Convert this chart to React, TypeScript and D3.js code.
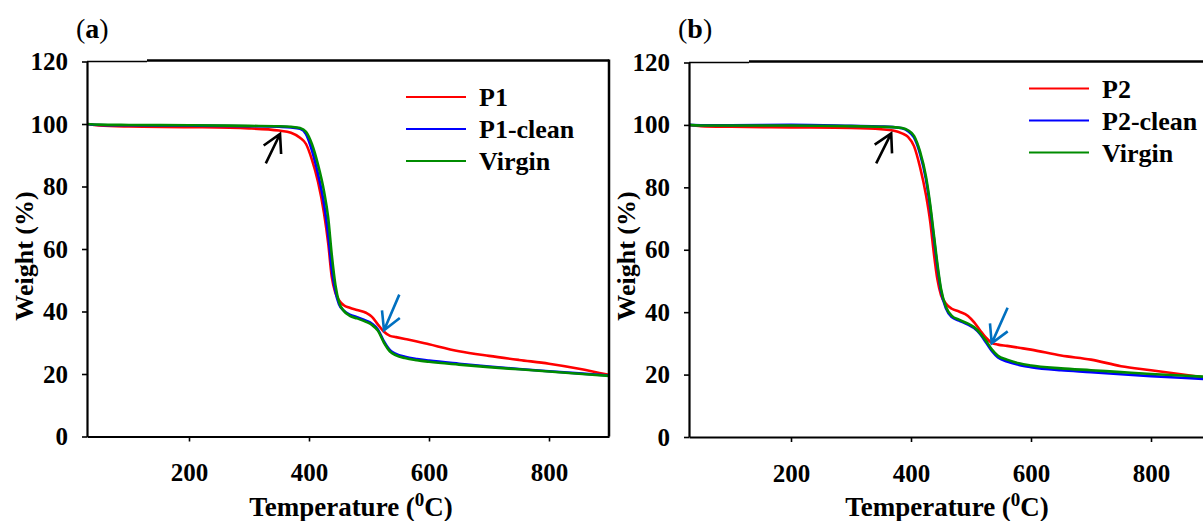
import React, { useEffect, useRef } from 'react';
import * as d3 from 'd3';

// temperature grid (°C), shared by every curve
const temps = [30, 50, 100, 200, 300, 350, 370, 385, 395, 405, 415, 425, 432, 438, 444, 450, 458, 468, 480, 495, 505, 515, 525, 535, 545, 560, 580, 600, 650, 700, 750, 800, 850, 900];

// panel (a)
const p1 = [100, 99.5, 99.2, 99.0, 98.6, 97.9, 97.2, 95.6, 93.6, 88.5, 81.5, 71.5, 61.8, 51.0, 46.0, 43.6, 42.0, 41.2, 40.5, 39.6, 38.3, 35.8, 33.5, 32.2, 31.8, 31.2, 30.4, 29.5, 27.3, 25.8, 24.5, 23.3, 21.7, 19.7];
const p1Clean = [100, 99.7, 99.6, 99.5, 99.3, 99.1, 98.9, 98.5, 96.8, 91.5, 84.0, 74.5, 64.5, 53.5, 46.5, 42.3, 40.3, 39.0, 38.2, 37.1, 36.1, 34.2, 30.4, 27.6, 26.4, 25.5, 24.8, 24.3, 23.3, 22.4, 21.6, 20.9, 20.2, 19.5];
const virginA = [100, 99.8, 99.7, 99.6, 99.4, 99.3, 99.1, 98.7, 97.5, 93.5, 87.0, 78.5, 70.0, 58.0, 48.5, 43.0, 40.2, 38.6, 37.8, 36.7, 35.7, 33.8, 30.0, 27.2, 26.0, 25.1, 24.4, 23.9, 23.0, 22.2, 21.5, 20.8, 20.1, 19.4];

// panel (b)
const p2 = [100, 99.6, 99.4, 99.2, 99.0, 98.6, 98.2, 97.3, 96.2, 93.2, 86.5, 77.5, 69.0, 59.0, 50.5, 45.5, 42.8, 41.1, 40.2, 38.8, 36.8, 34.2, 31.8, 30.1, 29.6, 29.2, 28.6, 28.0, 26.1, 24.8, 22.7, 21.4, 20.1, 18.8];
const p2Clean = [100, 99.9, 99.9, 100.0, 99.7, 99.5, 99.3, 98.9, 98.0, 96.0, 90.8, 82.5, 73.5, 64.0, 54.5, 46.8, 41.3, 38.4, 37.3, 36.0, 34.9, 33.0, 30.3, 27.5, 25.5, 24.2, 23.1, 22.4, 21.4, 20.8, 20.1, 19.5, 19.0, 18.5];
const virginB = [100, 99.8, 99.8, 99.8, 99.6, 99.4, 99.3, 99.0, 98.3, 96.5, 91.5, 83.4, 74.5, 65.0, 55.5, 47.5, 41.8, 38.8, 37.6, 36.3, 35.2, 33.3, 30.8, 28.0, 26.0, 24.8, 23.6, 22.9, 22.0, 21.4, 20.8, 20.2, 19.7, 19.2];

const xTicks = [200, 400, 600, 800];
const yTicks = [0, 20, 40, 60, 80, 100, 120];
const colors = ['#ff0000', '#0000ff', '#008c00'];
const legendA = ['P1', 'P1-clean', 'Virgin'];
const legendB = ['P2', 'P2-clean', 'Virgin'];

// annotation arrows: [tailT, tailW, tipT, tipW]
const arrowsA = [[328, 87.4, 351.7, 96.8], [550.5, 45.4, 525, 34]];
const arrowsB = [[342, 87.7, 367, 97.3], [561, 41.4, 534.5, 30]];
const arrowColors = ['#000000', '#0070c0'];

const FONT = 'Liberation Serif';

const panels = [
  { label: 'a', left: 87, right: 609, top: 61.5, bottom: 436.5, series: [p1, p1Clean, virginA], names: legendA, arrows: arrowsA, legX: 406, legY: 97 },
  { label: 'b', left: 689, right: 1211, top: 62.5, bottom: 437, series: [p2, p2Clean, virginB], names: legendB, arrows: arrowsB, legX: 1029, legY: 88.5 },
];

const App = () => {
  const ref = useRef<SVGSVGElement>(null);

  useEffect(() => {
    const svg = d3.select(ref.current);
    svg.selectAll('*').remove();

    panels.forEach((p) => {
      const x = d3.scaleLinear().domain([30, 900]).range([p.left, p.right]);
      const y = d3.scaleLinear().domain([0, 120]).range([p.bottom, p.top]);
      const g = svg.append('g').attr('font-family', FONT).attr('font-weight', 'bold');

      // curves
      const line = d3
        .line<number>()
        .x((_, i) => x(temps[i]))
        .y((d) => y(d))
        .curve(d3.curveMonotoneX);
      const clipId = 'clip-' + p.label;
      g.append('clipPath').attr('id', clipId).append('rect')
        .attr('x', p.left).attr('y', p.top).attr('width', p.right - p.left).attr('height', p.bottom - p.top);
      p.series.forEach((s, i) => {
        g.append('path')
          .datum(s)
          .attr('d', line)
          .attr('fill', 'none')
          .attr('stroke', colors[i])
          .attr('stroke-width', 2.6)
          .attr('clip-path', `url(#${clipId})`);
      });

      // frame
      g.append('line').attr('x1', p.left).attr('x2', p.left + 60).attr('y1', p.top).attr('y2', p.top)
        .attr('stroke', '#000').attr('stroke-width', 1.5);
      g.append('line').attr('x1', p.left + 60).attr('x2', p.right).attr('y1', p.top - 1).attr('y2', p.top - 1)
        .attr('stroke', '#000').attr('stroke-width', 2.5);
      g.append('line').attr('x1', p.right).attr('x2', p.right).attr('y1', p.top - 2).attr('y2', p.bottom)
        .attr('stroke', '#000').attr('stroke-width', 2.5);

      // axes
      const yAxis = g.append('g').attr('transform', `translate(${p.left},0)`)
        .call(d3.axisLeft(y).tickValues(yTicks).tickSize(5).tickPadding(14).tickSizeOuter(0));
      const xAxis = g.append('g').attr('transform', `translate(0,${p.bottom})`)
        .call(d3.axisBottom(x).tickValues(xTicks).tickSize(5).tickPadding(22).tickSizeOuter(0));
      [yAxis, xAxis].forEach((a) => {
        a.attr('font-family', FONT).attr('font-size', 25).attr('font-weight', 'bold');
        a.select('.domain').attr('stroke', '#000').attr('stroke-width', 2.2);
        a.selectAll('.tick line').attr('stroke', '#000').attr('stroke-width', 1.6);
        a.selectAll('.tick text').attr('fill', '#000');
      });

      // titles
      g.append('text')
        .attr('x', (p.left + p.right) / 2 + (p.label === 'b' ? -3 : 3))
        .attr('y', 516)
        .attr('text-anchor', 'middle')
        .attr('font-size', 27)
        .html('Temperature (<tspan dy="-10" font-size="19">0</tspan><tspan dy="10">C)</tspan>');
      g.append('text')
        .attr('transform', `translate(${p.left - 54},${256}) rotate(-90)`)
        .attr('text-anchor', 'middle')
        .attr('font-size', 26)
        .text('Weight (%)');
      g.append('text')
        .attr('x', p.left - 11)
        .attr('y', 38)
        .attr('font-size', 28)
        .html('<tspan font-weight="normal">(</tspan>' + p.label + '<tspan font-weight="normal">)</tspan>');

      // legend
      p.names.forEach((n, i) => {
        const ly = p.legY + i * 32;
        g.append('line').attr('x1', p.legX).attr('x2', p.legX + 60).attr('y1', ly).attr('y2', ly)
          .attr('stroke', colors[i]).attr('stroke-width', 2.2);
        g.append('text').attr('x', p.legX + 73).attr('y', ly + 9)
          .attr('font-size', 26)
          .text(n);
      });

      // arrows
      p.arrows.forEach((a, i) => {
        const x1 = x(a[0]), y1 = y(a[1]), x2 = x(a[2]), y2 = y(a[3]);
        const ang = Math.atan2(y1 - y2, x1 - x2);
        const len = 20;
        const spread = (29 * Math.PI) / 180;
        const path = d3.path();
        path.moveTo(x1, y1);
        path.lineTo(x2, y2);
        path.moveTo(x2 + len * Math.cos(ang + spread), y2 + len * Math.sin(ang + spread));
        path.lineTo(x2, y2);
        path.lineTo(x2 + len * Math.cos(ang - spread), y2 + len * Math.sin(ang - spread));
        g.append('path').attr('d', path.toString()).attr('fill', 'none')
          .attr('stroke', arrowColors[i]).attr('stroke-width', 2.6);
      });
    });
  }, []);

  return (
    <svg
      ref={ref}
      width={1203}
      height={521}
      style={{ position: 'absolute', left: 0, top: 0, background: '#fff' }}
    />
  );
};

export default App;
